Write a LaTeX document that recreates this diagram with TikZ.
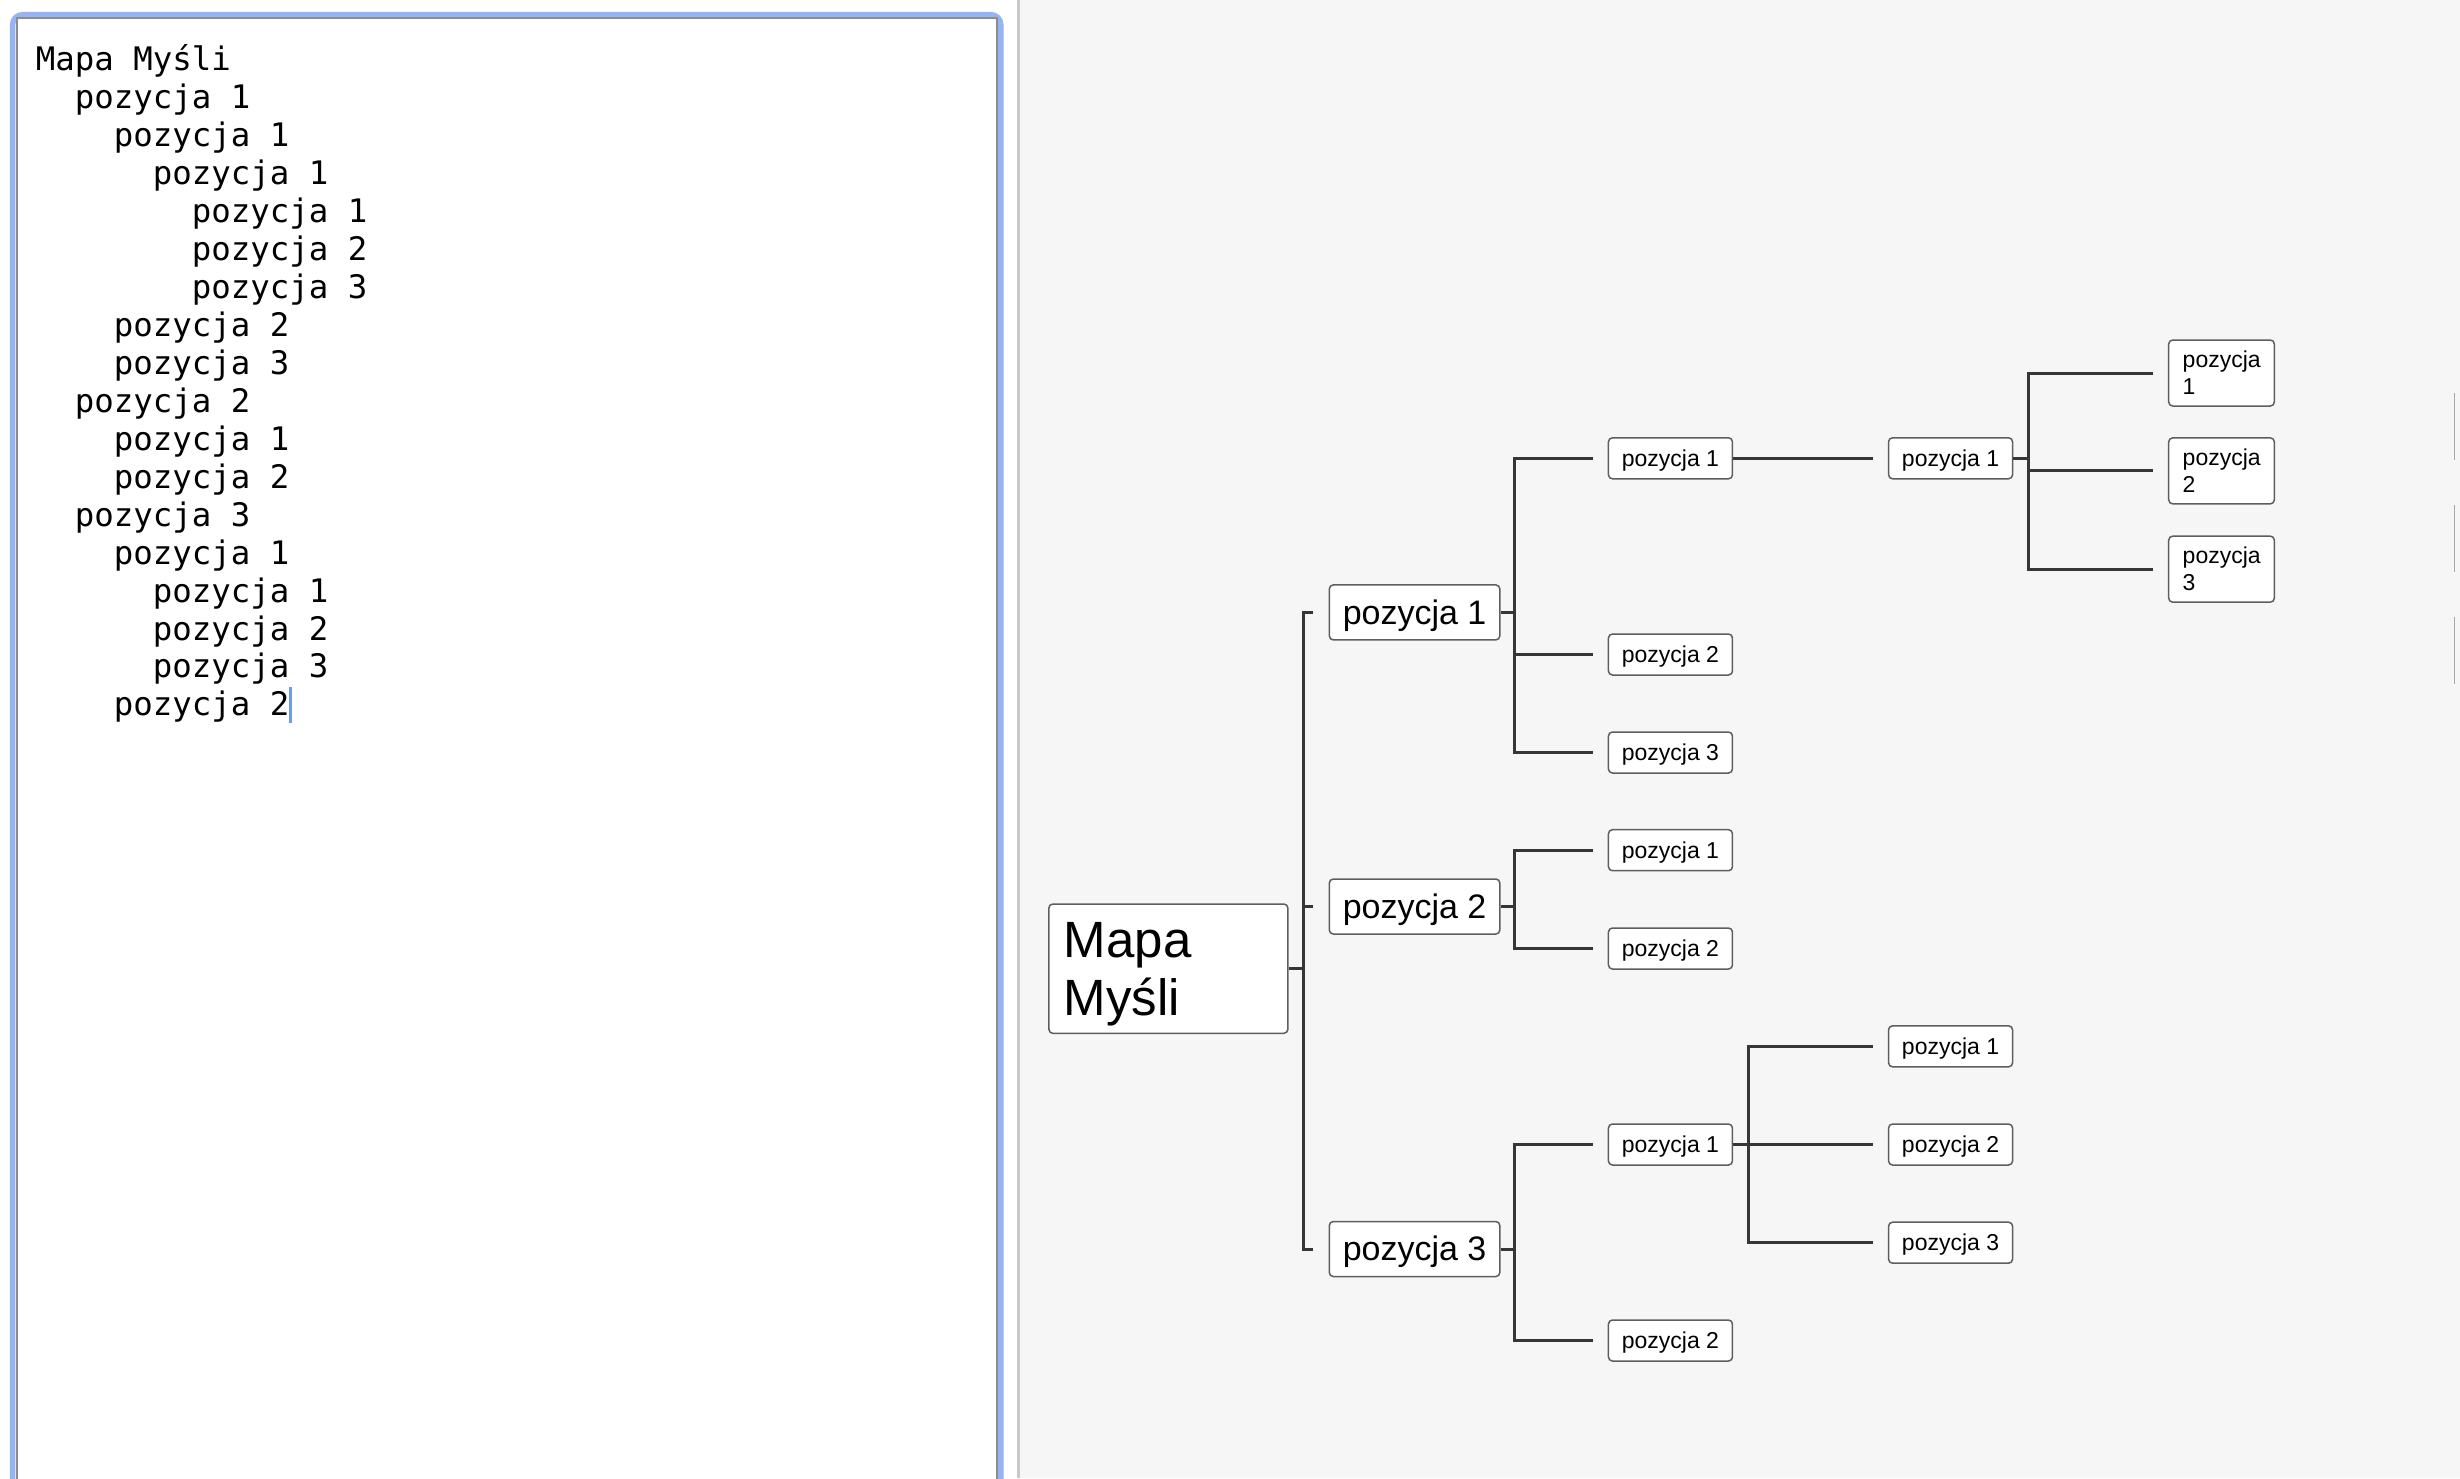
\documentclass[tikz,border=0pt]{standalone}
\usepackage{fontspec}
\setmainfont{Liberation Sans}
\newfontfamily\monofont{DejaVu Sans Mono}
\usetikzlibrary{calc}
\definecolor{panelbg}{HTML}{F6F6F6}
\definecolor{sepgray}{HTML}{C8C8C8}
\definecolor{frameblue}{HTML}{96B3F4}
\definecolor{framegray}{HTML}{8C8C8C}
\definecolor{cursorblue}{HTML}{6F9BEF}
\definecolor{linegray}{HTML}{363636}
\definecolor{boxgray}{HTML}{5E5E5E}
\definecolor{markgray}{HTML}{A8A8A8}
\newcommand{\rootlines}[2]{\rule{0pt}{23.2pt}#1\\#2\rule[-5.5pt]{0pt}{0pt}}
\newcommand{\smalllines}[2]{\rule{0pt}{10.6pt}#1\\#2\rule[-2.6pt]{0pt}{0pt}}
\tikzset{
  mapbox/.style={draw=boxgray, line width=0.75pt, fill=white, rounded corners=2pt, inner sep=0pt, align=center, text=black},
  rootbox/.style={mapbox, align=left, text width=104.5pt, inner xsep=7.5pt, minimum height=64.65pt,
    font=\fontsize{25.5}{28.7}\selectfont},
  lvone/.style={mapbox, minimum width=85.25pt, minimum height=27.5pt, text height=15.66pt, text depth=3.89pt,
    font=\fontsize{17}{19.5}\selectfont},
  lvtwo/.style={mapbox, minimum width=62pt, minimum height=20.5pt, text height=10.59pt, text depth=2.63pt,
    font=\fontsize{11.5}{13.2}\selectfont},
  lvfour/.style={mapbox, align=left, text width=38.8pt, inner xsep=7pt, minimum height=33pt,
    font=\fontsize{11.5}{13.2}\selectfont},
  conn/.style={draw=linegray, line width=1.5pt, line join=miter},
  edittext/.style={anchor=base west, inner sep=0pt, font=\monofont\fontsize{16.2}{19}\selectfont, text=black},
}
\begin{document}
\begin{tikzpicture}[x=0.5pt, y=-0.5pt]
\useasboundingbox (0,0) rectangle (2460,1478);
\clip (0,0) rectangle (2460,1478);
% backgrounds
\fill[white] (0,0) rectangle (1018,1478);
\fill[panelbg] (1018,0) rectangle (2460,1478);
\fill[sepgray] (1017,0) rectangle (1020,1478);
% editor frame
\draw[frameblue, line width=2.7pt, rounded corners=5pt] (12.6,1500) -- (12.6,14.6) -- (1000.8,14.6) -- (1000.8,1500);
\draw[framegray, line width=1.1pt] (16.9,1500) -- (16.9,18.3) -- (997,18.3) -- (997,1500);
% editor text
\foreach \lv/\tx [count=\i from 0] in {0/Mapa Myśli, 1/pozycja 1, 2/pozycja 1, 3/pozycja 1, 4/pozycja 1, 4/pozycja 2, 4/pozycja 3, 2/pozycja 2, 2/pozycja 3, 1/pozycja 2, 2/pozycja 1, 2/pozycja 2, 1/pozycja 3, 2/pozycja 1, 3/pozycja 1, 3/pozycja 2, 3/pozycja 3, 2/pozycja 2}
  \node[edittext] (l\i) at ({35.5+39*\lv}, {70.3+37.98*\i}) {\tx};
\draw[cursorblue, line width=1.5pt] ([xshift=0.3pt,yshift=-3.5pt]l17.base east) -- ([xshift=0.3pt,yshift=14.5pt]l17.base east);
% scroll marks
\draw[markgray, line width=0.8pt] (2454.3,393.3) -- (2454.3,460);
\draw[markgray, line width=0.8pt] (2454.3,505) -- (2454.3,572.3);
\draw[markgray, line width=0.8pt] (2454.3,616.7) -- (2454.3,684.3);
% mind map nodes
\node[rootbox] (root) at (1168.35,968.65) {\rootlines{Mapa}{Myśli}};
\node[lvone] (p1) at (1414.55,612.4) {pozycja 1};
\node[lvone] (p2) at (1414.55,906.5) {pozycja 2};
\node[lvone] (p3) at (1414.55,1249) {pozycja 3};
\node[lvtwo] (p11) at (1670.45,458.3) {pozycja 1};
\node[lvtwo] (p12) at (1670.45,654.5) {pozycja 2};
\node[lvtwo] (p13) at (1670.45,752.5) {pozycja 3};
\node[lvtwo] (p21) at (1670.45,850.2) {pozycja 1};
\node[lvtwo] (p22) at (1670.45,948.5) {pozycja 2};
\node[lvtwo] (p31) at (1670.45,1144.5) {pozycja 1};
\node[lvtwo] (p32) at (1670.45,1340.5) {pozycja 2};
\node[lvtwo] (p111) at (1950.55,458.3) {pozycja 1};
\node[lvfour] (p1111) at (2221.5,373) {\smalllines{pozycja}{1}};
\node[lvfour] (p1112) at (2221.5,470.85) {\smalllines{pozycja}{2}};
\node[lvfour] (p1113) at (2221.5,569.15) {\smalllines{pozycja}{3}};
\node[lvtwo] (p311) at (1950.55,1046.3) {pozycja 1};
\node[lvtwo] (p312) at (1950.55,1144.5) {pozycja 2};
\node[lvtwo] (p313) at (1950.55,1242.7) {pozycja 3};
% connectors: root
\coordinate (tr) at ([xshift=7.3pt]root.east);
\draw[conn] (root.east) -- (tr);
\draw[conn] ([xshift=-8pt]p1.west) -- (tr |- p1.west) -- (tr |- p3.west) -- ([xshift=-8pt]p3.west);
\draw[conn] (tr |- p2.west) -- ([xshift=-8pt]p2.west);
% p1
\coordinate (ta) at ([xshift=7.1pt]p1.east);
\draw[conn] (p1.east) -- (ta);
\draw[conn] ([xshift=-7.5pt]p11.west) -- (ta |- p11.west) -- (ta |- p13.west) -- ([xshift=-7.5pt]p13.west);
\draw[conn] (ta |- p12.west) -- ([xshift=-7.5pt]p12.west);
% p2
\coordinate (tb) at ([xshift=7.1pt]p2.east);
\draw[conn] (p2.east) -- (tb);
\draw[conn] ([xshift=-7.5pt]p21.west) -- (tb |- p21.west) -- (tb |- p22.west) -- ([xshift=-7.5pt]p22.west);
% p3
\coordinate (tc) at ([xshift=7.1pt]p3.east);
\draw[conn] (p3.east) -- (tc);
\draw[conn] ([xshift=-7.5pt]p31.west) -- (tc |- p31.west) -- (tc |- p32.west) -- ([xshift=-7.5pt]p32.west);
% p11 -> p111
\draw[conn] (p11.east) -- ([xshift=-7.5pt]p111.west);
% p111 children
\coordinate (td) at ([xshift=7.35pt]p111.east);
\draw[conn] (p111.east) -- (td);
\draw[conn] ([xshift=-7.6pt]p1111.west) -- (td |- p1111.west) -- (td |- p1113.west) -- ([xshift=-7.6pt]p1113.west);
\draw[conn] (td |- p1112.west) -- ([xshift=-7.6pt]p1112.west);
% p31 children
\coordinate (te) at ([xshift=7.8pt]p31.east);
\draw[conn] (p31.east) -- (te);
\draw[conn] ([xshift=-7.5pt]p311.west) -- (te |- p311.west) -- (te |- p313.west) -- ([xshift=-7.5pt]p313.west);
\draw[conn] (te |- p312.west) -- ([xshift=-7.5pt]p312.west);
\end{tikzpicture}
\end{document}
